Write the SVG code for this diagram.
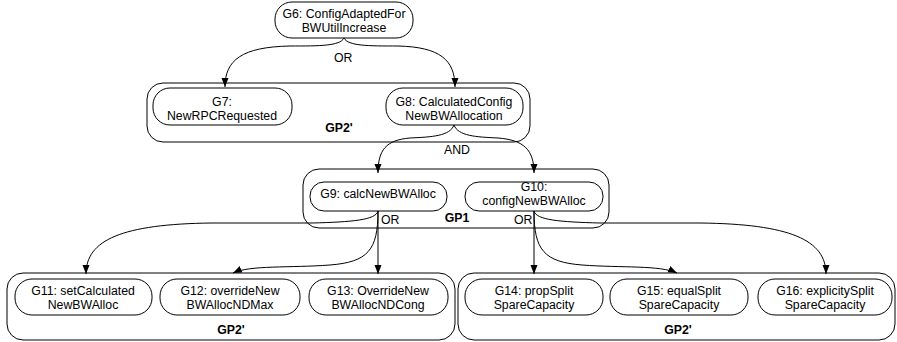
<svg xmlns="http://www.w3.org/2000/svg" width="897" height="342" viewBox="0 0 897 342">
<defs>
<style>
.grp{fill:none;stroke:#000;stroke-width:1}
.node{fill:#fff;stroke:#000;stroke-width:1}
.t{font-family:"Liberation Sans",Arial,sans-serif;font-size:12.3px;fill:#000;text-anchor:middle}
.gl{font-family:"Liberation Sans",Arial,sans-serif;font-size:12.3px;font-weight:bold;fill:#000;text-anchor:middle}
.lab{font-family:"Liberation Sans",Arial,sans-serif;font-size:12.3px;fill:#000}
.e{fill:none;stroke:#000;stroke-width:1;marker-end:url(#arr)}
</style>
<marker id="arr" markerUnits="userSpaceOnUse" markerWidth="10" markerHeight="8" refX="9" refY="3.5" orient="auto">
<path d="M0,0 L9,3.5 L0,7 z" fill="#000"/>
</marker>
</defs>
<rect width="897" height="342" fill="#fff"/>

<g id="groups">
<g id="GP2a"><rect class="grp" x="147" y="83" width="383" height="59" rx="16"/><text class="gl" x="339" y="132">GP2'</text></g>
<g id="GP1"><rect class="grp" x="303" y="169" width="306" height="59" rx="16"/><text class="gl" x="457" y="222">GP1</text></g>
<g id="GP2b"><rect class="grp" x="7" y="273" width="448" height="67" rx="16"/><text class="gl" x="231" y="334">GP2'</text></g>
<g id="GP2c"><rect class="grp" x="458" y="273" width="437" height="67" rx="16"/><text class="gl" x="678" y="334">GP2'</text></g>
</g>

<g id="connectors">
<path class="e" d="M344,38 C340,46 320,46 290,46 C242,47 225,60 225,87"/>
<path class="e" d="M344,38 C348,46 368,46 398,46 C440,47 455,60 455,87"/>
<text class="lab" x="334" y="62">OR</text>
<path class="e" d="M454,125 C450,136 432,137 410,138 C386,140 378,150 378,173"/>
<path class="e" d="M454,125 C458,136 476,137 498,138 C524,140 534,150 534,173"/>
<text class="lab" x="444" y="154">AND</text>
<path class="e" d="M378,211 C376,220 352,222 312,223 L212,223 C122,224 86,240 86,274"/>
<path class="e" d="M378,211 C378,250 368,262 330,265 C290,268 250,265 233,273"/>
<path class="e" d="M378,211 L378,274"/>
<text class="lab" x="381" y="224">OR</text>
<path class="e" d="M534,211 L534,274"/>
<path class="e" d="M534,211 C534,250 544,262 582,265 C622,268 660,265 677,273"/>
<path class="e" d="M534,211 C536,220 560,222 600,223 L700,223 C790,224 826,240 826,274"/>
<text class="lab" x="514" y="224">OR</text>
</g>

<g id="G6"><rect class="node" x="275" y="2" width="138" height="36" rx="17"/><text class="t" x="344" y="18">G6: ConfigAdaptedFor</text><text class="t" x="344" y="32">BWUtilIncrease</text></g>
<g id="G7"><rect class="node" x="153" y="88" width="139" height="37" rx="17"/><text class="t" x="222" y="106">G7:</text><text class="t" x="222" y="120">NewRPCRequested</text></g>
<g id="G8"><rect class="node" x="386" y="88" width="137" height="37" rx="17"/><text class="t" x="454" y="106">G8: CalculatedConfig</text><text class="t" x="454" y="120">NewBWAllocation</text></g>
<g id="G9"><rect class="node" x="310" y="182" width="137" height="29" rx="14"/><text class="t" x="378" y="198">G9: calcNewBWAlloc</text></g>
<g id="G10"><rect class="node" x="465" y="182" width="138" height="29" rx="14"/><text class="t" x="534" y="191">G10:</text><text class="t" x="534" y="205">configNewBWAlloc</text></g>
<g id="G11"><rect class="node" x="15" y="279" width="137" height="36" rx="17"/><text class="t" x="83" y="295">G11: setCalculated</text><text class="t" x="83" y="309">NewBWAlloc</text></g>
<g id="G12"><rect class="node" x="160" y="279" width="140" height="36" rx="17"/><text class="t" x="230" y="295">G12: overrideNew</text><text class="t" x="230" y="309">BWAllocNDMax</text></g>
<g id="G13"><rect class="node" x="309" y="279" width="139" height="36" rx="17"/><text class="t" x="378" y="295">G13: OverrideNew</text><text class="t" x="378" y="309">BWAllocNDCong</text></g>
<g id="G14"><rect class="node" x="465" y="279" width="138" height="36" rx="17"/><text class="t" x="534" y="295">G14: propSplit</text><text class="t" x="534" y="309">SpareCapacity</text></g>
<g id="G15"><rect class="node" x="610" y="279" width="138" height="36" rx="17"/><text class="t" x="679" y="295">G15: equalSplit</text><text class="t" x="679" y="309">SpareCapacity</text></g>
<g id="G16"><rect class="node" x="758" y="279" width="134" height="36" rx="17"/><text class="t" x="825" y="295">G16: explicitySplit</text><text class="t" x="825" y="309">SpareCapacity</text></g>
</svg>
